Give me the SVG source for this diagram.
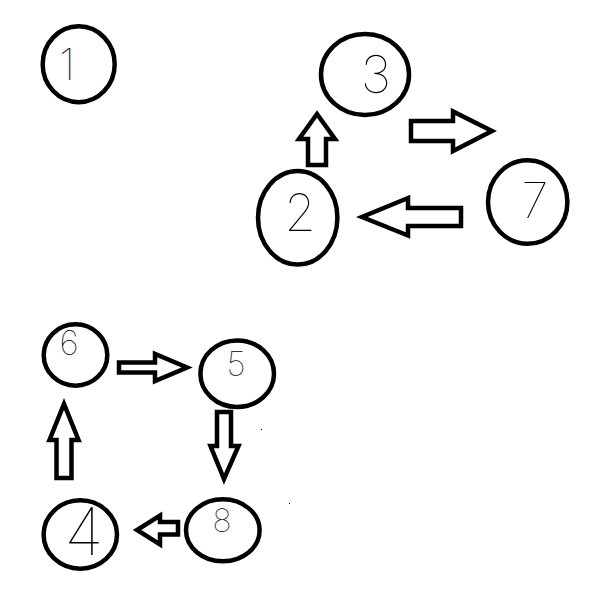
<svg xmlns="http://www.w3.org/2000/svg" width="609" height="590" viewBox="0 0 609 590">
<style>
.n ellipse{fill:#fff;stroke:#000;stroke-width:4.5}
.n text{font-family:Inter,"DejaVu Sans",sans-serif;font-weight:100;fill:#000;text-anchor:middle}
#connectors polygon{fill:#fff;stroke:#000;stroke-width:4.5;stroke-linejoin:miter;stroke-miterlimit:8}
.dot{fill:#000}
</style>
<rect width="609" height="590" fill="#fff"/>
<g id="connectors">
<polygon id="e2-3" points="308,165 308,139 299,139 317,114 335,139 326,139 326,165"/>
<polygon id="e3-7" points="411,121 453,121 453,111.5 492,131 453,151 453,141 411,141"/>
<polygon id="e7-2" points="461,208 408,208 408,198 362,217 408,235.5 408,226 461,226"/>
<polygon id="e6-5" points="119,362.5 155,362.5 155,354 187,367.5 155,381 155,372.5 119,372.5"/>
<polygon id="e5-8" points="217,412 231,412 231,446 238.5,446 224,479 210.5,446 217,446"/>
<polygon id="e8-4" points="178,522 160,522 160,515.5 137,530 160,544.5 160,534.5 178,534.5"/>
<polygon id="e4-6" points="56.5,478 56.5,440 49.5,440 64,404 78.5,440 71.5,440 71.5,478"/>
</g>
<g id="node1" class="n"><ellipse cx="78.7" cy="64.2" rx="36" ry="38"/><text x="67" y="80" font-size="44">1</text></g>
<g id="node3" class="n"><ellipse cx="365" cy="74.5" rx="44" ry="40.5"/><text x="376" y="93" font-size="52">3</text></g>
<g id="node2" class="n"><ellipse cx="297.7" cy="217.8" rx="39.7" ry="46.8"/><text x="300" y="231" font-size="51">2</text></g>
<g id="node7" class="n"><ellipse cx="527.7" cy="202" rx="39.7" ry="41.8"/><text x="535" y="218" font-size="49">7</text></g>
<g id="node6" class="n"><ellipse cx="75.5" cy="355" rx="31.8" ry="30.7"/><text x="69" y="355" font-size="34">6</text></g>
<g id="node5" class="n"><ellipse cx="237.2" cy="373.7" rx="36.8" ry="33.3"/><text x="236" y="376" font-size="34">5</text></g>
<g id="node4" class="n"><ellipse cx="80.3" cy="534.5" rx="36.7" ry="34.2"/><text x="84" y="555" font-size="66">4</text></g>
<g id="node8" class="n"><ellipse cx="222.8" cy="530.3" rx="36.8" ry="31"/><text x="222" y="532" font-size="32">8</text></g>
<rect class="dot" x="261" y="429" width="1" height="1"/>
<rect class="dot" x="289" y="503" width="1" height="1"/>
</svg>
